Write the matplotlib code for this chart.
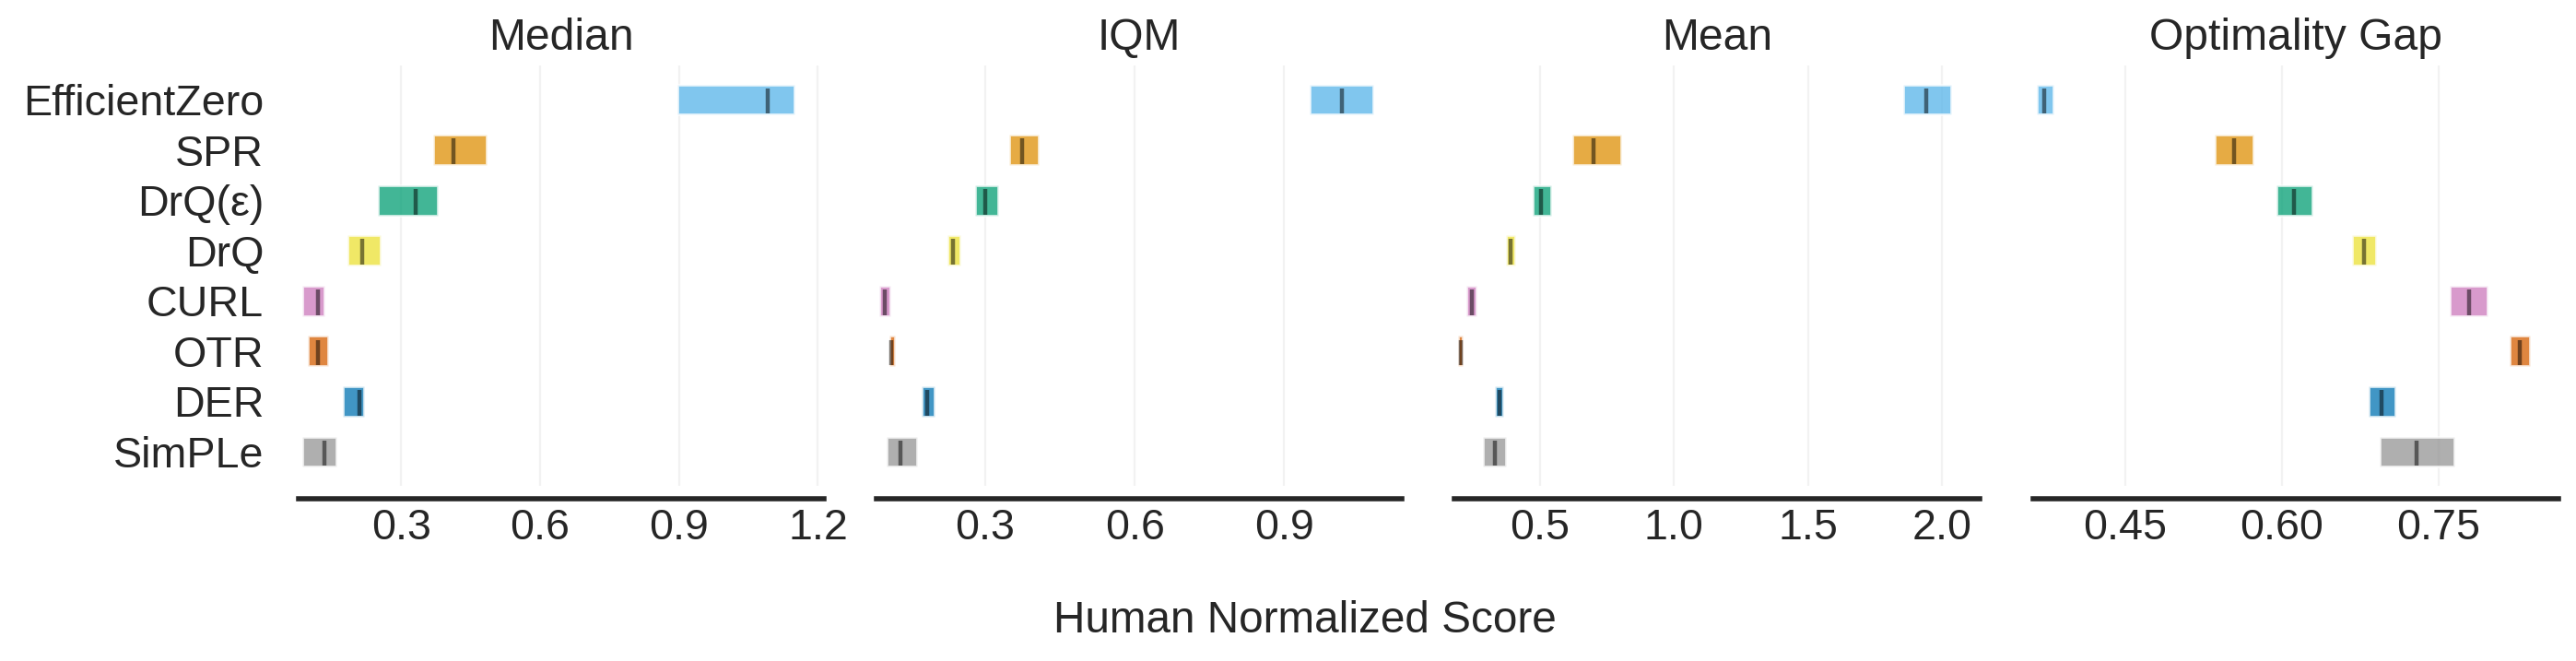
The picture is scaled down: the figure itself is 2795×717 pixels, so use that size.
import numpy as np
import matplotlib
matplotlib.use('Agg')
import matplotlib.pyplot as plt
import seaborn as sns

sns.set_style('white')
plt.rcParams['font.family'] = ['Liberation Sans', 'DejaVu Sans']

# bottom row first
algorithms = ['SimPLe', 'DER', 'OTR', 'CURL', 'DrQ', 'DrQ(ε)', 'SPR', 'EfficientZero']
colors = ['#949494', '#0173b2', '#d55e00', '#cc78bc', '#ece133', '#029e73', '#de8f05', '#56b4e9']
metric_names = ['Median', 'IQM', 'Mean', 'Optimality Gap']

# point estimates and interval bounds per metric (same order as algorithms)
median_pt = [0.134, 0.211, 0.120, 0.120, 0.217, 0.331, 0.414, 1.091]
median_lo = [0.087, 0.174, 0.099, 0.087, 0.185, 0.251, 0.370, 0.896]
median_hi = [0.160, 0.221, 0.142, 0.134, 0.257, 0.380, 0.484, 1.150]

iqm_pt = [0.130, 0.183, 0.112, 0.098, 0.236, 0.301, 0.375, 1.016]
iqm_lo = [0.102, 0.173, 0.107, 0.088, 0.224, 0.279, 0.348, 0.952]
iqm_hi = [0.164, 0.198, 0.119, 0.110, 0.250, 0.326, 0.408, 1.079]

mean_pt = [0.331, 0.348, 0.204, 0.245, 0.390, 0.503, 0.701, 1.942]
mean_lo = [0.288, 0.333, 0.196, 0.227, 0.373, 0.472, 0.620, 1.856]
mean_hi = [0.374, 0.362, 0.211, 0.265, 0.408, 0.541, 0.804, 2.035]

og_pt = [0.729, 0.696, 0.828, 0.779, 0.6785, 0.612, 0.554, 0.373]
og_lo = [0.694, 0.683, 0.8185, 0.761, 0.667, 0.595, 0.536, 0.3655]
og_hi = [0.765, 0.709, 0.838, 0.797, 0.690, 0.629, 0.5726, 0.3814]

points = [median_pt, iqm_pt, mean_pt, og_pt]
lows = [median_lo, iqm_lo, mean_lo, og_lo]
highs = [median_hi, iqm_hi, mean_hi, og_hi]

xticks = [[0.3, 0.6, 0.9, 1.2], [0.3, 0.6, 0.9], [0.5, 1.0, 1.5, 2.0], [0.45, 0.60, 0.75]]
xlims = [(0.079, 1.213), (0.082, 1.136), (0.181, 2.141), (0.362, 0.865)]

W, H, dpi = 2795, 717, 200
fig = plt.figure(figsize=(W / dpi, H / dpi), dpi=dpi)
lefts = [324, 951, 1578, 2206]
aw = 570
bottom = 1 - 527 / H
top = 1 - 71 / H

h = 0.6
for idx, name in enumerate(metric_names):
    ax = fig.add_axes([lefts[idx] / W, bottom, aw / W, top - bottom])
    for i, alg in enumerate(algorithms):
        lo, hi = lows[idx][i], highs[idx][i]
        ax.barh(y=i, width=hi - lo, height=h, left=lo, color=colors[i], alpha=0.75)
        ax.vlines(x=points[idx][i], ymin=i - 7.5 * h / 16, ymax=i + 6 * h / 16,
                  color='k', alpha=0.5, linewidth=1.6)
    ax.set_ylim(-0.68, len(algorithms) - 1 + 0.68)
    ax.set_xlim(*xlims[idx])
    ax.set_xticks(xticks[idx])
    if idx == 0:
        ax.set_yticks(range(len(algorithms)))
        ax.set_yticklabels(algorithms, fontsize=17.7)
    else:
        ax.set_yticks([])
    ax.set_title(name, fontsize=17.3, color='.15')
    ax.spines['right'].set_visible(False)
    ax.spines['top'].set_visible(False)
    ax.spines['left'].set_visible(False)
    ax.spines['bottom'].set_linewidth(2)
    ax.spines['bottom'].set_color('.15')
    ax.spines['left'].set_position(('outward', 10))
    ax.spines['bottom'].set_position(('outward', 5))
    ax.tick_params(length=0.1, width=0.1, labelsize=16.8, colors='.15')
    ax.grid(True, axis='x', alpha=0.25)
    ax.set_axisbelow(True)

fig.text(1416 / W, 1 - 686 / H, 'Human Normalized Score', ha='center', va='baseline',
         fontsize=17.2, color='.15')

fig.savefig('out.png', dpi=dpi)
